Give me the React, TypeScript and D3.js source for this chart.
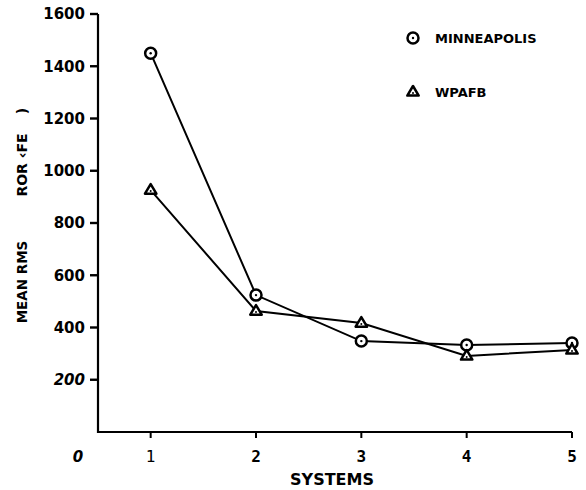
import React from "react";
import * as d3 from "d3";

const systems = [1, 2, 3, 4, 5];
const minneapolis = [1450, 524, 348, 333, 341];
const wpafb = [926, 463, 417, 291, 314];
const yTicks = [200, 400, 600, 800, 1000, 1200, 1400, 1600];
const xTicks = [1, 2, 3, 4, 5];
const seriesNames = ["MINNEAPOLIS", "WPAFB"];

const W = 586;
const H = 490;

export default function App() {
  const x = d3.scaleLinear().domain([0.5, 5]).range([98, 572]);
  const y = d3.scaleLinear().domain([0, 1600]).range([432, 14]);
  const line = d3
    .line<number>()
    .x((_, i) => x(systems[i]))
    .y((d) => y(d));
  const font = "'DejaVu Sans', sans-serif";

  const circleMark = (cx: number, cy: number, key: string) => (
    <g key={key}>
      <circle cx={cx} cy={cy} r={5.5} fill="#fff" stroke="#000" strokeWidth={2.5} />
      <circle cx={cx} cy={cy} r={1.2} fill="#000" />
    </g>
  );
  const triMark = (cx: number, cy: number, key: string) => {
    const s = 6;
    const pts = [
      [cx, cy - s],
      [cx - s * 0.95, cy + s * 0.6],
      [cx + s * 0.95, cy + s * 0.6],
    ]
      .map((p) => p.join(","))
      .join(" ");
    return (
      <g key={key}>
        <polygon points={pts} fill="#fff" stroke="#000" strokeWidth={2.5} strokeLinejoin="round" />
        <circle cx={cx} cy={cy + 1} r={1} fill="#000" />
      </g>
    );
  };

  return (
    <svg
      width={W}
      height={H}
      style={{ position: "absolute", left: 0, top: 0, background: "#fff" }}
      fontFamily={font}
    >
      <rect width={W} height={H} fill="#fff" />
      {/* axes */}
      <line x1={x(0.5)} y1={y(1600)} x2={x(0.5)} y2={y(0) + 1} stroke="#000" strokeWidth={2.2} />
      <line x1={x(0.5) - 1} y1={y(0)} x2={x(5)} y2={y(0)} stroke="#000" strokeWidth={2.2} />
      {yTicks.map((t) => (
        <g key={"yt" + t}>
          <line x1={x(0.5) - 8} x2={x(0.5)} y1={y(t)} y2={y(t)} stroke="#000" strokeWidth={2.4} />
          <text
            x={85}
            y={y(t)}
            dy="0.36em"
            textAnchor="end"
            fontSize={15}
            fontWeight="bold"
            fontStyle={t === 200 ? "italic" : "normal"}
          >
            {t}
          </text>
        </g>
      ))}
      {xTicks.map((t) => (
        <g key={"xt" + t}>
          <line x1={x(t)} x2={x(t)} y1={y(0)} y2={y(0) + 6} stroke="#000" strokeWidth={2} />
          <text
            x={x(t)}
            y={462}
            textAnchor="middle"
            fontSize={16}
            fontWeight={t === 1 ? "normal" : "bold"}
            fontFamily="'DejaVu Sans Mono', monospace"
          >
            {t}
          </text>
        </g>
      ))}
      <text x={78} y={462} textAnchor="middle" fontSize={15} fontStyle="italic" fontWeight="bold">
        0
      </text>
      <text x={332} y={485} textAnchor="middle" fontSize={16} fontWeight="bold">
        SYSTEMS
      </text>
      {/* y title */}
      <text transform="translate(27,282) rotate(-90)" textAnchor="middle" fontSize={13.5} fontWeight="bold">
        MEAN RMS
      </text>
      <text transform="translate(27,165) rotate(-90)" textAnchor="middle" fontSize={14} fontWeight="bold">
        ROR ‹FE
      </text>
      <text transform="translate(27,111) rotate(-90)" textAnchor="middle" fontSize={14} fontWeight="bold">
        )
      </text>
      {/* lines */}
      <path d={line(minneapolis) || ""} fill="none" stroke="#000" strokeWidth={2} />
      <path d={line(wpafb) || ""} fill="none" stroke="#000" strokeWidth={2} />
      {minneapolis.map((v, i) => circleMark(x(systems[i]), y(v), "m" + i))}
      {wpafb.map((v, i) => triMark(x(systems[i]), y(v), "w" + i))}
      {/* legend */}
      {circleMark(413, 38, "lc")}
      <text x={435} y={38} dy="0.36em" fontSize={13} fontWeight="bold">
        {seriesNames[0]}
      </text>
      {triMark(413, 92, "lt")}
      <text x={435} y={92} dy="0.36em" fontSize={13} fontWeight="bold">
        {seriesNames[1]}
      </text>
    </svg>
  );
}
